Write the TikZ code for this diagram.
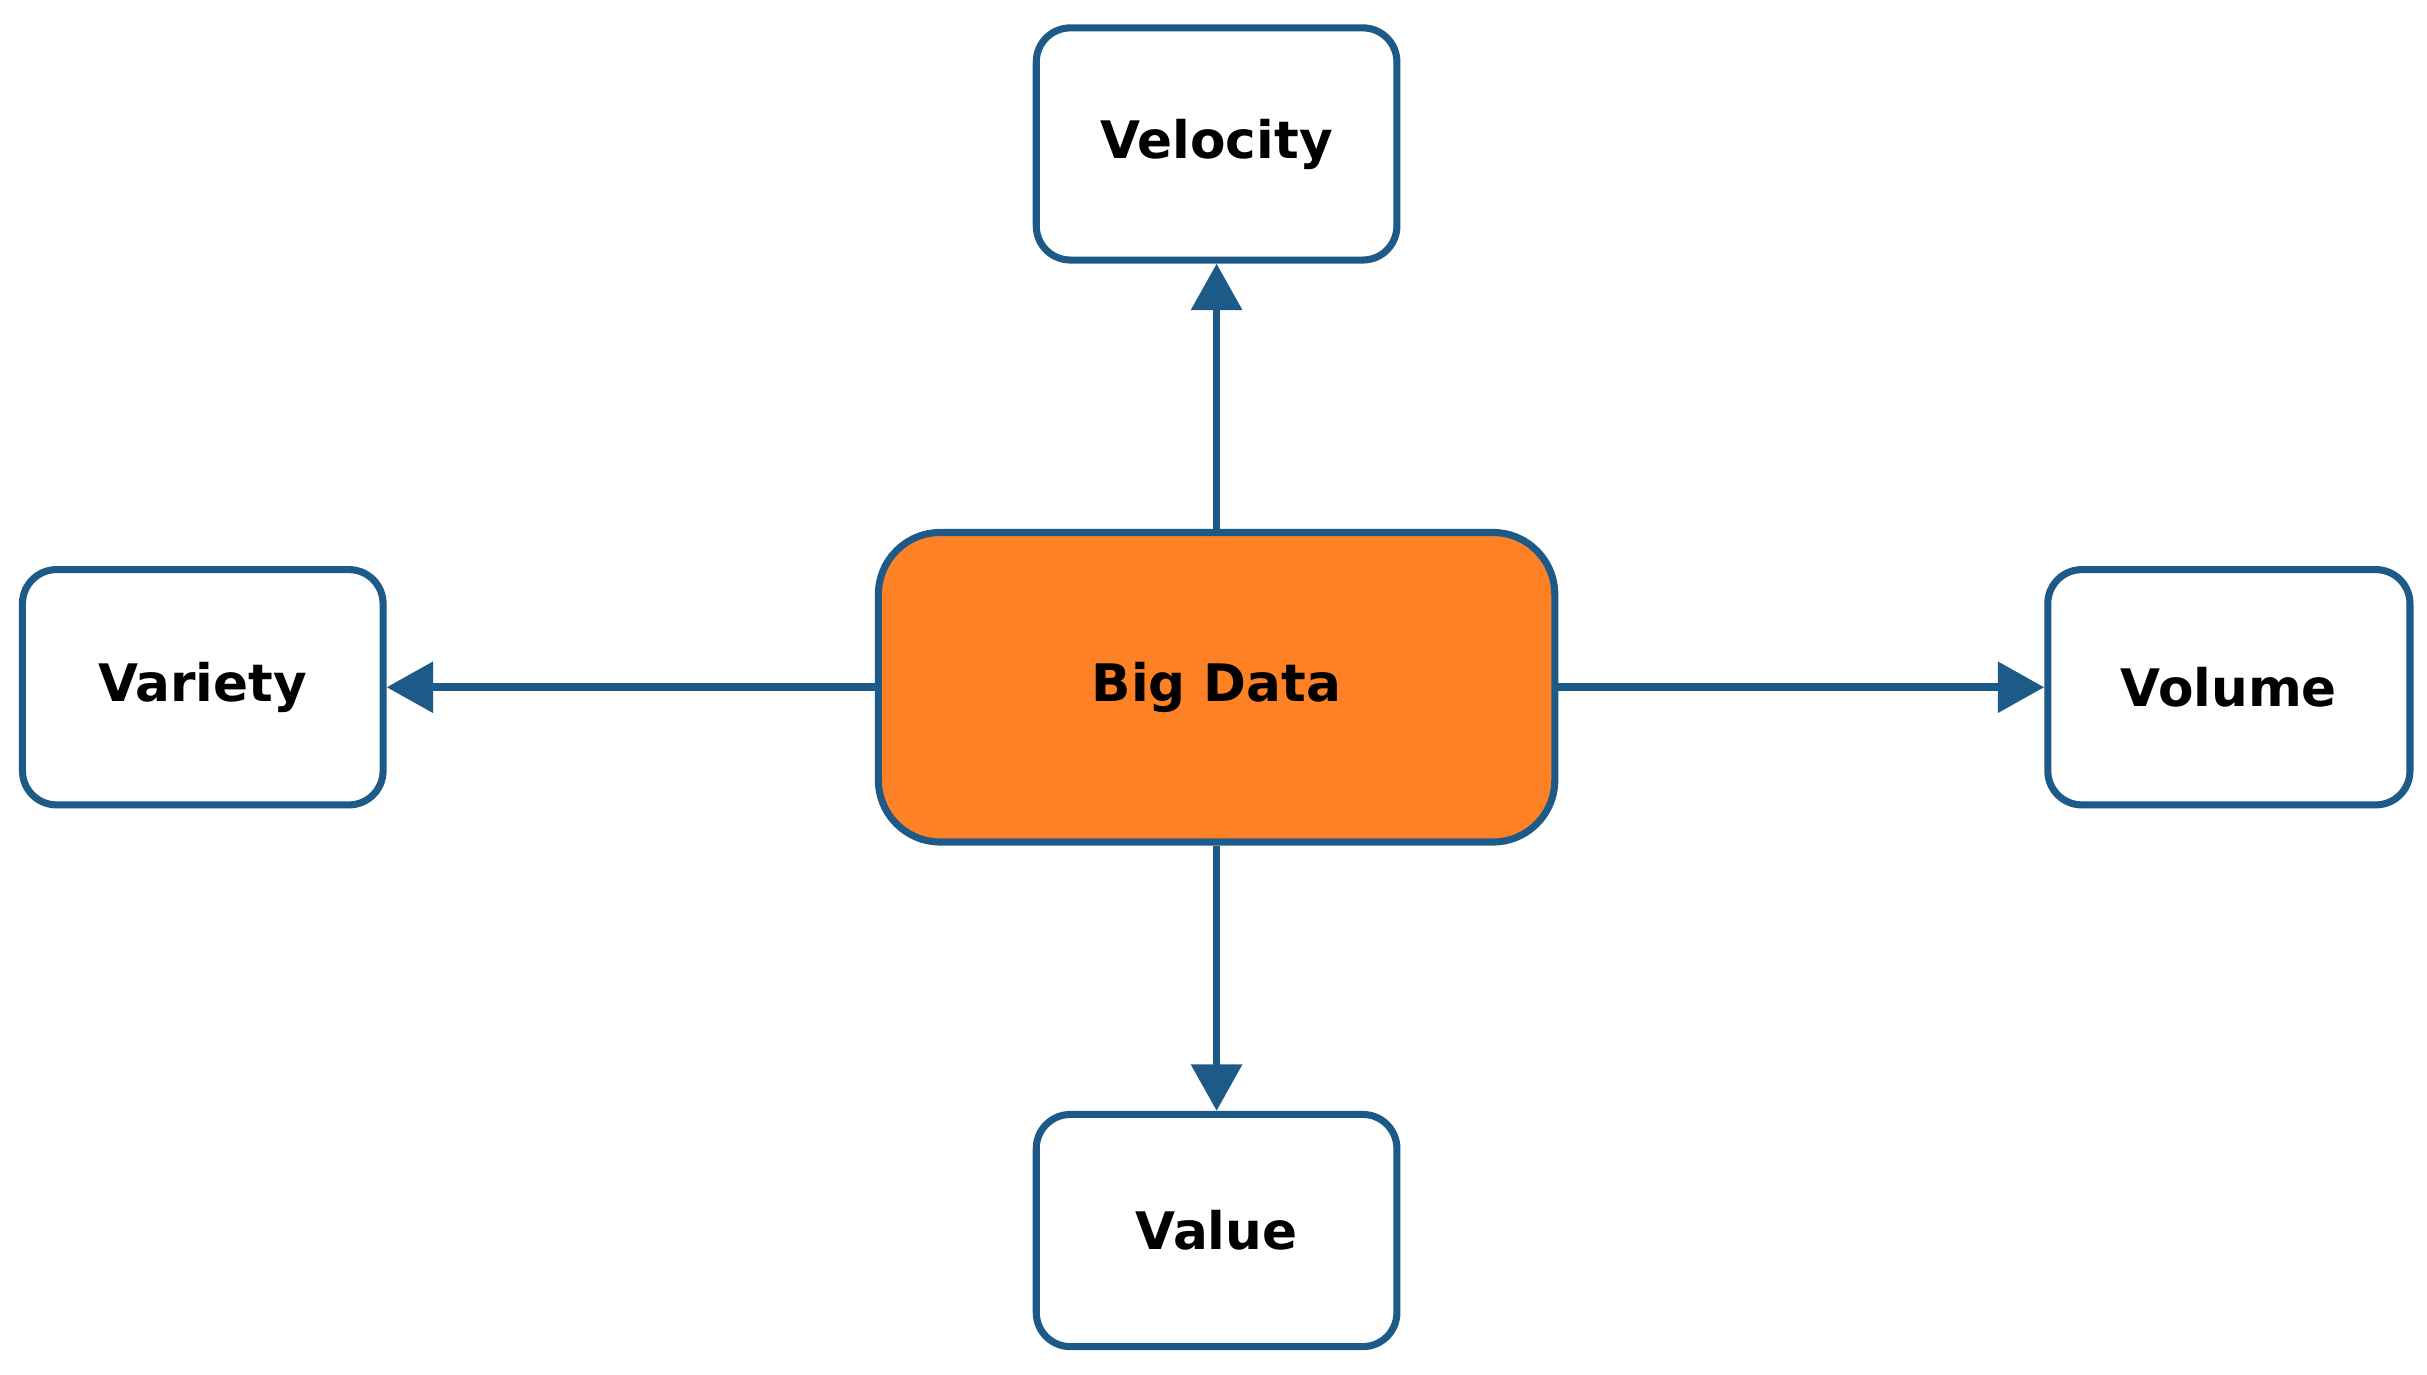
\documentclass[tikz,border=0pt]{standalone}
\usepackage{fontspec}
\setmainfont{DejaVu Sans}
\usetikzlibrary{arrows.meta}
\definecolor{bl}{HTML}{1D5A87}
\definecolor{org}{HTML}{FF8126}
\begin{document}
\begin{tikzpicture}[x=0.1mm,y=-0.1mm,
  box/.style={draw=bl,line width=1.3pt,rounded corners=2.2mm,fill=white,font=\bfseries\fontsize{9.5}{11}\selectfont,inner sep=0pt},
  arr/.style={draw=bl,line width=1.4pt,-{Triangle[length=3mm,width=3.2mm]}}]
\useasboundingbox (0,0) rectangle (1568,888);
\node[box,minimum width=23.3mm,minimum height=15mm] (vel) at (786,93) {Velocity};
\node[box,minimum width=23.3mm,minimum height=15.2mm] (var) at (131,444) {Variety};
\node[box,minimum width=23.4mm,minimum height=15.2mm] (vol) at (1440,444) {Volume};
\node[box,minimum width=23.3mm,minimum height=15mm] (val) at (786,795) {Value};
\node[box,fill=org,rounded corners=4mm,minimum width=43.7mm,minimum height=20mm] (bd) at (786,444) {Big Data};
\draw[arr] (bd) -- (vel);
\draw[arr] (bd) -- (var);
\draw[arr] (bd) -- (vol);
\draw[arr] (bd) -- (val);
\end{tikzpicture}
\end{document}
